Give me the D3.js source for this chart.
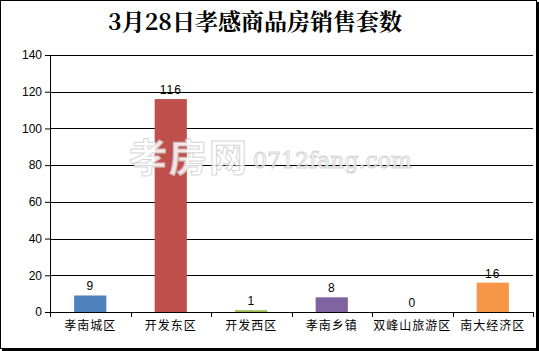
<!DOCTYPE html>
<html>
<head>
<meta charset="utf-8">
<script src="https://cdn.jsdelivr.net/npm/d3@7"></script>
<style>
  body { margin: 0; background: #fff; }
  svg text { font-family: "Liberation Sans", "Noto Sans CJK SC", sans-serif; }
</style>
</head>
<body>
<div id="chart"></div>
<script>
// data
let categories = ["孝南城区", "开发东区", "开发西区", "孝南乡镇", "双峰山旅游区", "南大经济区"];
let values = [9, 116, 1, 8, 0, 16];
let barColors = ["#4F81BD", "#C0504D", "#9BBB59", "#8064A2", "#4BACC6", "#F79646"];
let yTicks = [0, 20, 40, 60, 80, 100, 120, 140];
let title = "3月28日孝感商品房销售套数";

let W = 539, H = 351;
let margin = {top: 55, right: 6, bottom: 39, left: 50};
let w = W - margin.left - margin.right;
let h = H - margin.top - margin.bottom;

let svg = d3.select("#chart").append("svg")
  .attr("width", W)
  .attr("height", H);

svg.append("rect").attr("width", W).attr("height", H).attr("fill", "#fff");

// frame with shadow on right/bottom
svg.append("rect")
  .attr("x", 0.5).attr("y", 0.5)
  .attr("width", 536).attr("height", 348)
  .attr("fill", "none").attr("stroke", "#000").attr("stroke-width", 1);
svg.append("rect").attr("x", 536).attr("y", 2).attr("width", 3).attr("height", 349).attr("fill", "#000");
svg.append("rect").attr("x", 2).attr("y", 348).attr("width", 537).attr("height", 3).attr("fill", "#000");

svg.append("text")
  .attr("x", 255).attr("y", 30)
  .attr("text-anchor", "middle")
  .style("font-family", "'Noto Serif CJK SC', 'Noto Sans CJK SC', serif")
  .style("font-size", "23px")
  .style("font-weight", "bold")
  .text(title);

let g = svg.append("g").attr("transform", "translate(" + margin.left + "," + margin.top + ")");

let x = d3.scaleBand().domain(categories).range([0, w]).paddingInner(0).paddingOuter(0);
let y = d3.scaleLinear().domain([0, 140]).range([h, 0]);

// gridlines
g.append("g")
  .selectAll("line")
  .data(yTicks.slice(1))
  .enter().append("line")
  .attr("x1", 0).attr("x2", w)
  .attr("y1", d => Math.round(y(d)) + 0.5)
  .attr("y2", d => Math.round(y(d)) + 0.5)
  .attr("stroke", "#000").attr("stroke-width", 1);

// watermark
let wm = svg.append("g").attr("opacity", 0.85);
wm.append("text")
  .attr("x", 129).attr("y", 171)
  .style("font-family", "'Noto Sans CJK SC', sans-serif")
  .style("font-size", "38px")
  .style("font-weight", "bold")
  .attr("fill", "#fff").attr("stroke", "#d0d0d0").attr("stroke-width", 1)
  .attr("letter-spacing", "2")
  .text("孝房网");
wm.append("text")
  .attr("x", 253).attr("y", 168)
  .style("font-family", "'DejaVu Serif', serif")
  .style("font-size", "22px")
  .attr("fill", "#fff").attr("stroke", "#d0d0d0").attr("stroke-width", 1)
  .text("0712fang.com");

// bars
let bw = x.bandwidth() * 0.4;
g.selectAll(".bar")
  .data(values)
  .enter().append("rect")
  .attr("class", "bar")
  .attr("x", (d, i) => x(categories[i]) + (x.bandwidth() - bw) / 2)
  .attr("y", d => y(d))
  .attr("width", bw)
  .attr("height", d => h - y(d))
  .attr("fill", (d, i) => barColors[i]);

// value labels
g.selectAll(".lbl")
  .data(values)
  .enter().append("text")
  .attr("class", "lbl")
  .attr("x", (d, i) => x(categories[i]) + x.bandwidth() / 2)
  .attr("y", d => y(d) - 5)
  .attr("text-anchor", "middle")
  .attr("letter-spacing", "1")
  .style("font-size", "12px")
  .text(d => d);

// y axis
let yAxis = g.append("g")
  .call(d3.axisLeft(y).tickValues(yTicks).tickSize(5).tickPadding(3));
yAxis.select(".domain").attr("stroke", "#000");
yAxis.selectAll("text").style("font-size", "12px").attr("fill", "#000");

// x axis
let xAxis = g.append("g")
  .attr("transform", "translate(0," + h + ")")
  .call(d3.axisBottom(x).tickSize(0).tickPadding(9));
xAxis.select(".domain").remove();
xAxis.selectAll("text")
  .style("font-family", "'Noto Sans CJK SC', sans-serif")
  .attr("letter-spacing", "1")
  .style("font-size", "12px").attr("fill", "#000");
xAxis.append("line")
  .attr("x1", 0).attr("x2", w).attr("y1", 0.5).attr("y2", 0.5)
  .attr("stroke", "#000");
xAxis.selectAll(".xt")
  .data(d3.range(categories.length + 1))
  .enter().append("line")
  .attr("class", "xt")
  .attr("x1", i => Math.round(i * x.step()) + 0.5)
  .attr("x2", i => Math.round(i * x.step()) + 0.5)
  .attr("y1", 0).attr("y2", 5)
  .attr("stroke", "#000");
</script>
</body>
</html>
